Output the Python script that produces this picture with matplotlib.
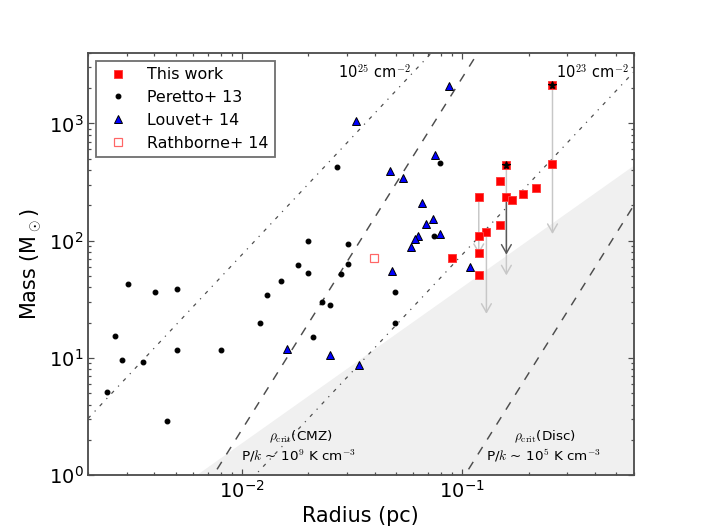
import numpy as np
import matplotlib
matplotlib.use('Agg')
import matplotlib.pyplot as plt

plt.rcParams['font.family'] = ['DejaVu Sans']
plt.rcParams['mathtext.fontset'] = 'cm'
plt.rcParams['axes.unicode_minus'] = False

# This work (radius pc, mass Msun)
this_r = [0.257, 0.1587, 0.257, 0.1486, 0.2163, 0.188, 0.1587, 0.169, 0.1189,
          0.1486, 0.1288, 0.1189, 0.1189, 0.0895, 0.1189]
this_m = [2128, 443, 452, 324, 282, 252, 238, 224, 235,
          135, 118, 109, 77.8, 71, 50.9]
star_r = [0.257, 0.1587]
star_m = [2128, 443]

# upper limits -> arrows
arrow_r = [0.257, 0.1587, 0.1189, 0.1288, 0.1587]
arrow_top = [2128, 443, 235, 118, 238]
arrow_bottom = [114, 50.6, 77, 23.8, 76]
arrow_col = ['0.78', '0.78', '0.78', '0.78', '0.35']

# Peretto+ 13
per_r = [0.00244, 0.00265, 0.00284, 0.00305, 0.00356, 0.00404, 0.00458, 0.00505,
         0.00505, 0.00806, 0.0121, 0.0130, 0.0151, 0.0180, 0.0200, 0.0200,
         0.0211, 0.0231, 0.0251, 0.0270, 0.0283, 0.0302, 0.0303, 0.0494,
         0.0495, 0.0741, 0.0792]
per_m = [5.16, 15.5, 9.54, 42.9, 9.23, 36.2, 2.92, 38.6,
         11.8, 11.8, 20.0, 34.6, 45.2, 62.3, 100, 52.6,
         15.2, 29.9, 28.4, 423, 51.5, 63.1, 93.4, 36.2,
         19.7, 110, 457]

# Louvet+ 14
lou_r = [0.0330, 0.0873, 0.0755, 0.0468, 0.0537, 0.0656, 0.0736, 0.0684, 0.0795,
         0.0628, 0.0608, 0.0587, 0.109, 0.0478, 0.0160, 0.0250, 0.0340]
lou_m = [1057, 2099, 539, 394, 341, 210, 152, 140, 114,
         110, 104, 88, 60, 55.4, 11.9, 10.5, 8.65]

# Rathborne+ 14
rat_r = [0.0398]
rat_m = [71.5]

# reference relations
col_dens = [1e25, 1e23]          # cm^-2, M = coef * N * R^2
col_coef = 7.6e-20
crit_coef = [2.45e6, 920]        # M = A * R^3 (CMZ, Disc)
kp_coef, kp_index = 870, 1.33    # shaded threshold

r_line = np.logspace(np.log10(0.002), np.log10(0.6), 300)

fig = plt.figure(figsize=(8, 6), dpi=88)
ax = fig.add_axes([0.125, 0.1, 0.775, 0.8])
ax.set_xscale('log')
ax.set_yscale('log')

ax.fill_between(r_line, 0.1, kp_coef * r_line ** kp_index, color='#f0f0f0', lw=0, zorder=0)
for n in col_dens:
    ax.plot(r_line, col_coef * n * r_line ** 2, color='0.3', lw=1, dashes=(3, 5, 1, 5), zorder=1)
for a in crit_coef:
    ax.plot(r_line, a * r_line ** 3, color='0.3', lw=1.2, dashes=(6, 6), zorder=1)

for r, m0, m1, c in zip(arrow_r, arrow_top, arrow_bottom, arrow_col):
    ax.annotate('', xy=(r, m1), xytext=(r, m0),
                arrowprops=dict(arrowstyle='->,head_length=0.7,head_width=0.4',
                                color=c, lw=1.2, shrinkA=0, shrinkB=0), zorder=2)

h1, = ax.plot(this_r, this_m, 's', mfc='red', mec='#ff4040', mew=0.8, ms=6, zorder=4)
h2, = ax.plot(per_r, per_m, 'o', color='k', ms=3.8, zorder=3)
h3, = ax.plot(lou_r, lou_m, '^', mfc='b', mec='k', mew=0.8, ms=7, zorder=3)
h4, = ax.plot(rat_r, rat_m, 's', mfc='none', mec='red', alpha=0.6, mew=1, ms=6, zorder=3)
ax.plot(star_r, star_m, '*', color='k', ms=6.5, zorder=5)

ax.set_xlim(0.002, 0.6)
ax.set_ylim(1, 4000)

ax.text(0.0272, 2455, '10$^{25}$ cm$^{-2}$', fontsize=12, ha='left', va='baseline')
ax.text(0.267, 2455, '10$^{23}$ cm$^{-2}$', fontsize=12, ha='left', va='baseline')
ax.text(0.0185, 2.13, r'$\rho_{\rm crit}$(CMZ)', fontsize=11, ha='center', va='center')
ax.text(0.018, 1.47, 'P/$k$ ~ 10$^9$ K cm$^{-3}$', fontsize=11, ha='center', va='center')
ax.text(0.238, 2.13, r'$\rho_{\rm crit}$(Disc)', fontsize=11, ha='center', va='center')
ax.text(0.233, 1.47, 'P/$k$ ~ 10$^5$ K cm$^{-3}$', fontsize=11, ha='center', va='center')

ax.set_xlabel('Radius (pc)', fontsize=17)
ax.set_ylabel(r'Mass (M$_\odot$)', fontsize=17)

ax.tick_params(which='both', direction='in', top=True, right=True, color='0.3',
               labelcolor='k', labelsize=16, width=1)
ax.tick_params(which='major', length=5)
ax.tick_params(which='minor', length=2.5)
for s in ax.spines.values():
    s.set_linewidth(1.5)
    s.set_color('0.3')

leg = ax.legend([h1, h2, h3, h4], ['This work', 'Peretto+ 13', 'Louvet+ 14', 'Rathborne+ 14'],
                loc='upper left', numpoints=1, fontsize=13, fancybox=False)
leg.get_frame().set_edgecolor('0.3')
leg.get_frame().set_linewidth(1.5)

fig.savefig('out.png', dpi=88)
